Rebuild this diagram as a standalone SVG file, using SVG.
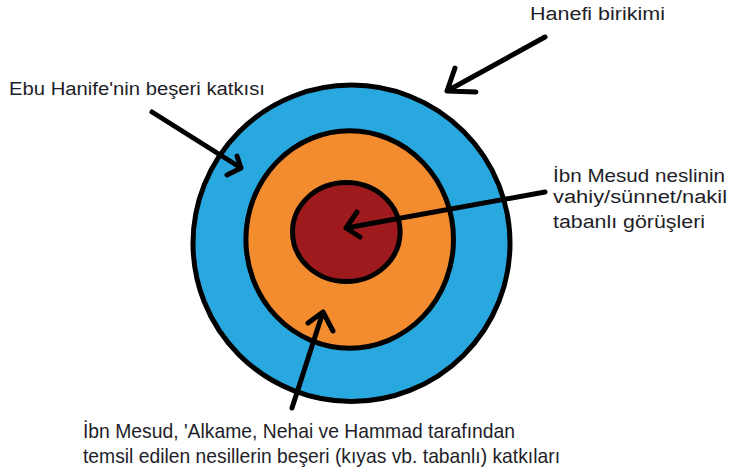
<svg xmlns="http://www.w3.org/2000/svg" width="729" height="472" viewBox="0 0 729 472">
<style>
.ring{stroke:#000;stroke-width:5}
.lbl{font-family:"Liberation Sans",Arial,sans-serif;fill:#1e1e28}
.arr{fill:none;stroke:#000;stroke-width:5;stroke-linecap:round;stroke-linejoin:round}
</style>
<rect width="729" height="472" fill="#fff"/>
<g id="ring-outer"><ellipse class="ring" cx="351.5" cy="243.3" rx="158.5" ry="158.2" fill="#29a8e0"/></g>
<g id="ring-middle"><ellipse class="ring" cx="349.7" cy="239.5" rx="103.8" ry="108.7" fill="#f28c2f"/></g>
<g id="ring-inner"><ellipse class="ring" cx="346.3" cy="232" rx="53.8" ry="49.5" fill="#9e1a1d"/></g>
<g id="label-hanefi"><text class="lbl" x="530" y="20" font-size="18" textLength="135" lengthAdjust="spacingAndGlyphs">Hanefi birikimi</text></g>
<g id="label-ebu"><text class="lbl" x="9" y="95" font-size="18" textLength="256" lengthAdjust="spacingAndGlyphs">Ebu Hanife'nin beşeri katkısı</text></g>
<g id="label-ibn">
<text class="lbl" x="553" y="182" font-size="18" textLength="172" lengthAdjust="spacingAndGlyphs">İbn Mesud neslinin</text>
<text class="lbl" x="553" y="203" font-size="18" textLength="174" lengthAdjust="spacingAndGlyphs">vahiy/sünnet/nakil</text>
<text class="lbl" x="553" y="228" font-size="18" textLength="152" lengthAdjust="spacingAndGlyphs">tabanlı görüşleri</text>
</g>
<g id="label-bottom">
<text class="lbl" x="83" y="438" font-size="21" textLength="432" lengthAdjust="spacingAndGlyphs">İbn Mesud, 'Alkame, Nehai ve Hammad tarafından</text>
<text class="lbl" x="83" y="463" font-size="21" textLength="477" lengthAdjust="spacingAndGlyphs">temsil edilen nesillerin beşeri (kıyas vb. tabanlı) katkıları</text>
</g>
<g id="connectors">
<path class="arr" d="M545,37 L447,91 M455,68 L447,91 L476,92"/>
<path class="arr" d="M152,112 L241,168 M237,156 L241,168 L227,175"/>
<path class="arr" d="M545,192 L346,228 M357,212 L346,228 L360,237"/>
<path class="arr" d="M292,408 L323,312 M308,323 L323,312 L333,331"/>
</g>
</svg>
